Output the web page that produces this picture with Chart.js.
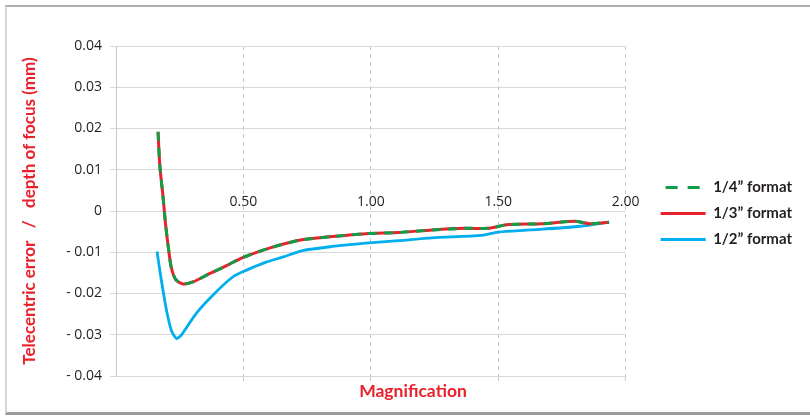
<!DOCTYPE html>
<html><head><meta charset="utf-8">
<script src="https://cdn.jsdelivr.net/npm/chart.js@4"></script>
<style>
html,body{margin:0;padding:0;background:#fff;}
#wrap{position:relative;width:810px;height:416px;overflow:hidden;}
#frame{position:absolute;left:5px;top:5px;width:820px;height:405px;border-top:2px solid #adadad;border-left:2px solid #d4d4d4;border-bottom:3px solid #9b9b9b;}
canvas{position:absolute;left:0;top:0;}
</style></head><body>
<div id="wrap"><div id="frame"></div><canvas id="c" width="810" height="416"></canvas></div>
<script>
const seriesLabels = ['1/4\u201D format', '1/3\u201D format', '1/2\u201D format'];
const xTicks = [0.5, 1.0, 1.5, 2.0];
const yTicks = [-0.04, -0.03, -0.02, -0.01, 0, 0.01, 0.02, 0.03, 0.04];

const xQuarter = [0.165,0.172,0.184,0.195,0.207,0.217,0.234,0.262,0.302,0.367,0.432,0.497,0.602,0.719,0.849,0.98,1.109,1.24,1.37,1.46,1.54,1.67,1.80,1.86,1.935];
const yQuarter = [0.0192,0.0110,0.0038,-0.0035,-0.0096,-0.0137,-0.0166,-0.0177,-0.0172,-0.0152,-0.0133,-0.0113,-0.0090,-0.0071,-0.0062,-0.0055,-0.0052,-0.0046,-0.0042,-0.0042,-0.0033,-0.0031,-0.0025,-0.0031,-0.0027];
const xThird = [0.165,0.172,0.184,0.195,0.207,0.217,0.234,0.262,0.302,0.367,0.432,0.497,0.602,0.719,0.849,0.98,1.109,1.24,1.37,1.46,1.54,1.67,1.80,1.86,1.935];
const yThird = [0.0192,0.0110,0.0038,-0.0035,-0.0096,-0.0137,-0.0166,-0.0177,-0.0172,-0.0152,-0.0133,-0.0113,-0.0090,-0.0071,-0.0062,-0.0055,-0.0052,-0.0046,-0.0042,-0.0042,-0.0033,-0.0031,-0.0025,-0.0031,-0.0027];
const xHalf = [0.161,0.178,0.198,0.217,0.237,0.256,0.315,0.38,0.458,0.51,0.589,0.653,0.732,0.849,0.98,1.109,1.24,1.435,1.5,1.628,1.823,1.935];
const yHalf = [-0.0098,-0.0168,-0.0240,-0.0289,-0.0309,-0.0301,-0.0248,-0.0204,-0.0160,-0.0144,-0.0124,-0.0112,-0.0096,-0.0086,-0.0078,-0.0072,-0.0065,-0.0059,-0.0051,-0.0046,-0.0037,-0.0027];

const pts = (xs, ys) => xs.map((x, i) => ({x: x, y: ys[i]}));
const RED = '#e8212b', GREEN = '#139b48', BLUE = '#00aeef', TXT = '#231f20';
const FONT = 'Open Sans', BFONT = 'Lato';

new Chart(document.getElementById('c'), {
  type: 'line',
  data: {
    datasets: [
      {label: seriesLabels[0], data: pts(xQuarter, yQuarter), borderColor: GREEN, backgroundColor: GREEN, borderWidth: 3, borderDash: [9, 7], pointRadius: 0, tension: 0.25, xAxisID: 'x', yAxisID: 'y'},
      {label: seriesLabels[1], data: pts(xThird, yThird), borderColor: RED, backgroundColor: RED, borderWidth: 3, pointRadius: 0, tension: 0.25, xAxisID: 'x', yAxisID: 'y'},
      {label: seriesLabels[2], data: pts(xHalf, yHalf), borderColor: BLUE, backgroundColor: BLUE, borderWidth: 2.8, pointRadius: 0, tension: 0.25, xAxisID: 'x', yAxisID: 'y'}
    ]
  },
  options: {
    responsive: false,
    animation: false,
    devicePixelRatio: 1,
    layout: {padding: {left: 24, right: 8, top: 46, bottom: 8}},
    plugins: {
      legend: {
        position: 'right', fullSize: false, maxWidth: 220,
        title: {display: true, text: '', font: {size: 1}, padding: {top: 4, bottom: 0}},
        labels: {usePointStyle: true, pointStyle: 'line', pointStyleWidth: 45, padding: 11, color: TXT,
                 font: {family: BFONT, size: 15, weight: 'bold'},
                 generateLabels: chart => {
                   const items = Chart.defaults.plugins.legend.labels.generateLabels(chart);
                   items.forEach(it => {
                     const ds = chart.data.datasets[it.datasetIndex];
                     it.lineWidth = 3;
                     it.strokeStyle = ds.borderColor;
                     it.lineDash = ds.borderDash ? [12, 10] : [];
                     it.lineDashOffset = 17;
                     it.lineCap = 'butt';
                   });
                   return items;
                 }}
      },
      title: {display: true, position: 'bottom', text: 'Magnification', color: RED,
              font: {family: BFONT, size: 17.5, weight: 'bold'}, padding: {top: 0, bottom: 6}},
      tooltip: {enabled: false}
    },
    scales: {
      x: {
        type: 'linear', position: 'bottom', min: 0, max: 2,
        afterBuildTicks: s => { s.ticks = [0].concat(xTicks).map(v => ({value: v})); },
        ticks: {display: false},
        grid: {color: c => (c.tick && c.tick.value === 0) ? 'rgba(0,0,0,0)' : '#c8c8c8',
               tickBorderDash: [], tickLength: 5, tickColor: c => (c.tick && c.tick.value === 0) ? 'rgba(0,0,0,0)' : '#c8c8c8'},
        border: {display: false, dash: [4, 4]},
        afterFit: s => { s.height = 5; }
      },
      xl: {
        type: 'linear', position: {y: 0}, min: 0, max: 2,
        afterBuildTicks: s => { s.ticks = xTicks.map(v => ({value: v})); },
        ticks: {callback: v => v.toFixed(2), padding: -17, color: TXT, font: {family: FONT, size: 14}, maxRotation: 0, autoSkip: false},
        grid: {display: false, drawTicks: false},
        border: {display: false}
      },
      y: {
        type: 'linear', min: -0.04, max: 0.04,
        afterBuildTicks: s => { s.ticks = yTicks.map(v => ({value: v})); },
        ticks: {padding: 8, color: TXT, font: {family: FONT, size: 14},
                callback: v => Math.abs(v) < 1e-9 ? '0' : (v < 0 ? '- ' + Math.abs(v).toFixed(2) : v.toFixed(2))},
        grid: {color: '#d9d9d9', tickLength: 6, tickColor: '#d9d9d9'},
        border: {color: '#c8c8c8'},
        title: {display: true, text: 'Telecentric error   /   depth of focus (mm)', color: RED,
                font: {family: BFONT, size: 17, weight: 'bold'}, padding: {top: -5, bottom: 0}},
        afterFit: s => { s.width = 92; }
      },
      y2: {
        position: 'right', display: true,
        ticks: {display: false}, grid: {display: false}, border: {display: false},
        afterFit: s => { s.width = 24; }
      }
    }
  }
});
</script>
</body></html>
